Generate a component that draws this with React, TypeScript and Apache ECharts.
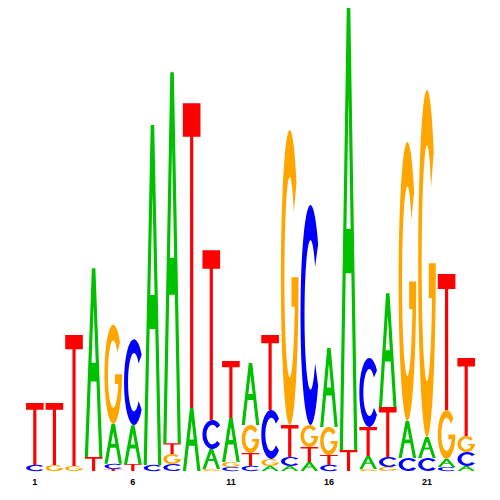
import React, { useEffect, useRef } from "react";
import * as echarts from "echarts";

// Sequence logo: information (bits) per letter and position
const positions = Array.from({ length: 23 }, (_, i) => String(i + 1));
const letters = ["A", "C", "G", "T"];
const heightA = [0, 0, 0, 0.816, 0.173, 0.168, 1.469, 1.603, 0.272, 0.086, 0.19, 0.268, 0.022, 0.022, 0.039, 0.341, 1.909, 0.056, 0.492, 0.16, 0.091, 0.035, 0.022];
const heightC = [0.026, 0, 0, 0, 0.022, 0.371, 0.026, 0.03, 0, 0.125, 0.017, 0.022, 0.212, 0.039, 0.95, 0.026, 0, 0.298, 0.043, 0.056, 0.056, 0.017, 0.06];
const heightG = [0, 0.026, 0.022, 0, 0.428, 0, 0, 0.043, 0, 0.009, 0.022, 0.121, 0.03, 1.274, 0.095, 0.121, 0, 0.009, 0.017, 1.205, 1.499, 0.212, 0.069];
const heightT = [0.268, 0.268, 0.566, 0.06, 0.009, 0.03, 0, 0.047, 1.317, 0.734, 0.246, 0.056, 0.324, 0.138, 0.065, 0.043, 0.091, 0.125, 0.216, 0, 0, 0.587, 0.337];

const COLORS = ["#00C000", "#0000FF", "#FFA500", "#FF0000"];
const PATHS = [
  "M0,100 L40,0 L60,0 L100,100 L82,100 L66,60 L34,60 L18,100 Z M50,20 L38,50 L62,50 Z",
  "M88.3,17.9 A50,50 0 1 0 88.3,82.1 L73,71.9 A30,34 0 1 1 73,28.1 Z",
  "M88.3,17.9 A50,50 0 1 0 100,50 L60,50 L60,60 L78.7,60 A30,34 0 1 1 73,28.1 Z",
  "M0,0 L100,0 L100,11 L59,11 L59,100 L41,100 L41,11 L0,11 Z",
];

function buildData() {
  const all = [heightA, heightC, heightG, heightT];
  const out: number[][] = [];
  positions.forEach((_, i) => {
    const items = letters
      .map((_, k) => ({ k, v: all[k][i] }))
      .filter((d) => d.v > 0)
      .sort((a, b) => a.v - b.v);
    let acc = 0;
    items.forEach((d) => {
      out.push([i, acc, acc + d.v, d.k]);
      acc += d.v;
    });
  });
  return out;
}

export default function App() {
  const ref = useRef<HTMLDivElement>(null);
  useEffect(() => {
    if (!ref.current) return;
    const chart = echarts.init(ref.current, null, { renderer: "svg" });
    chart.setOption({
      animation: false,
      backgroundColor: "#ffffff",
      grid: { left: 25, right: 24, top: 8, bottom: 29 },
      xAxis: {
        type: "category",
        data: positions,
        boundaryGap: true,
        axisLine: { show: false },
        axisTick: { show: false },
        splitLine: { show: false },
        axisLabel: {
          interval: 4,
          margin: 6,
          fontSize: 9,
          fontWeight: "bold",
          color: "#000",
          fontFamily: "Liberation Sans, Arial, sans-serif",
        },
      },
      yAxis: { type: "value", min: 0, max: 2, show: false },
      series: [
        {
          type: "custom",
          encode: { x: 0, y: [1, 2] },
          data: buildData(),
          renderItem: (params: any, api: any) => {
            const i = api.value(0);
            const y0 = api.value(1);
            const y1 = api.value(2);
            const k = api.value(3);
            const top = api.coord([i, y1]);
            const bot = api.coord([i, y0]);
            const bw = api.size([1, 0])[0] * 0.9;
            const h = bot[1] - top[1];
            if (h <= 0) return null;
            return {
              type: "path",
              shape: {
                pathData: PATHS[k],
                x: top[0] - bw / 2,
                y: top[1],
                width: bw,
                height: h,
                layout: "cover",
              },
              style: { fill: COLORS[k] },
            };
          },
        },
      ],
    });
    return () => chart.dispose();
  }, []);
  return (
    <div
      ref={ref}
      style={{ position: "fixed", left: 0, top: 0, width: 500, height: 500 }}
    />
  );
}
